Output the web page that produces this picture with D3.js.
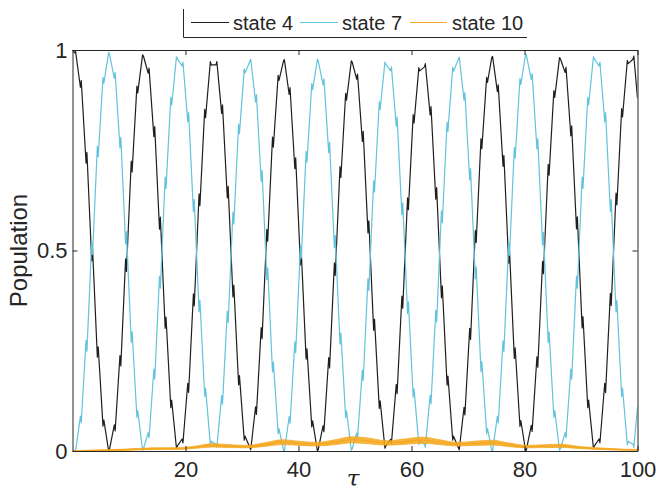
<!DOCTYPE html>
<html><head><meta charset="utf-8">
<script src="https://cdn.jsdelivr.net/npm/d3@7"></script>
<style>
body{margin:0;background:#fff}
svg{display:block}
text{font-family:"Liberation Sans",Arial,Helvetica,sans-serif;fill:#262626}
</style>
</head><body><svg id="chart" width="656" height="494"></svg>
<script>
// ---------------- data ----------------
const seriesNames = ["state 4", "state 7", "state 10"];
const xTicks = [20, 40, 60, 80, 100];
const yTicks = [0, 0.5, 1];
const yTickLabels = ["0", "0.5", "1"];

// state 4 : [tau, population]
const state4 = [[0,1],[0.4,.993],[0.55,.996],[1.4,.907],[1.55,.924],[2.4,.718],[2.55,.745],[3.4,.474],[3.55,.505],[4.4,.234],[4.55,.26],[5.4,.062],[5.55,.077],[6.4,0],[6.55,.004],[7.4,.065],[7.55,.05],[8.4,.238],[8.55,.212],[9.4,.479],[9.55,.448],[10.4,.723],[10.55,.696],[11.4,.91],[11.55,.893],[12.4,.988],[12.55,.985],
[13.4,.942],[13.55,.955],[14.4,.784],[14.55,.809],[15.4,.553],[15.55,.583],[16.4,.306],[16.55,.334],[17.4,.108],[17.55,.127],[18.4,.007],[18.55,.012],[19.4,.03],[19.55,.02],[20.4,.169],[20.55,.146],[21.4,.392],[21.55,.362],[22.4,.641],[22.55,.612],[23.4,.852],[23.55,.831],[24.4,.971],[24.55,.963],
[25.4,.963],[25.55,.971],[26.4,.842],[26.55,.863],[27.4,.631],[27.55,.66],[28.4,.384],[28.55,.414],[29.4,.165],[29.55,.188],[30.4,.027],[30.55,.037],[31.4,.008],[31.55,.003],[32.4,.11],[32.55,.091],[33.4,.308],[33.55,.28],[34.4,.553],[34.55,.523],[35.4,.783],[35.55,.758],[36.4,.937],[36.55,.924],
[37.35,.973],[37.5,.976],[38.35,.889],[38.5,.906],[39.35,.704],[39.5,.731],[40.35,.464],[40.5,.495],[41.35,.229],[41.5,.255],[42.35,.06],[42.5,.075],[43.35,0],[43.5,.004],[44.35,.063],[44.5,.048],[45.35,.233],[45.5,.207],[46.35,.469],[46.5,.438],[47.35,.709],[47.5,.682],[48.35,.892],[48.5,.875],[49.35,.973],[49.5,.97],
[50.3,.927],[50.45,.94],[51.3,.772],[51.45,.797],[52.3,.544],[52.45,.574],[53.3,.301],[53.45,.329],[54.3,.106],[54.45,.125],[55.3,.007],[55.45,.012],[56.3,.029],[56.45,.019],[57.3,.166],[57.45,.143],[58.3,.386],[58.45,.356],[59.3,.631],[59.45,.602],[60.3,.839],[60.45,.818],[61.3,.956],[61.45,.948],
[62.3,.958],[62.45,.966],[63.3,.838],[63.45,.859],[64.3,.628],[64.45,.657],[65.3,.382],[65.45,.412],[66.3,.164],[66.45,.187],[67.3,.027],[67.45,.037],[68.3,.008],[68.45,.003],[69.3,.109],[69.45,.09],[70.3,.306],[70.45,.278],[71.3,.55],[71.45,.52],[72.3,.779],[72.45,.754],[73.3,.932],[73.45,.919],
[74.2,.981],[74.35,.984],[75.2,.896],[75.35,.913],[76.2,.71],[76.35,.737],[77.2,.468],[77.35,.499],[78.2,.231],[78.35,.257],[79.2,.061],[79.35,.076],[80.2,0],[80.35,.004],[81.2,.064],[81.35,.049],[82.2,.235],[82.35,.209],[83.2,.473],[83.35,.442],[84.2,.715],[84.35,.688],[85.2,.899],[85.35,.882],[86.2,.981],[86.35,.978],
[87.2,.944],[87.35,.957],[88.2,.786],[88.35,.811],[89.2,.554],[89.35,.584],[90.2,.307],[90.35,.335],[91.2,.108],[91.35,.127],[92.2,.007],[92.35,.012],[93.2,.03],[93.35,.02],[94.2,.169],[94.35,.146],[95.2,.393],[95.35,.363],[96.2,.643],[96.35,.614],[97.2,.854],[97.35,.833],[98.2,.974],[98.35,.966],
[99.2,.977],[99.35,.985],[100,.88]];

// state 7 : [tau, population]
const state7 = [[0,0],[0.4,.002],[0.55,0],[1.4,.087],[1.55,.07],[2.4,.276],[2.55,.249],[3.4,.521],[3.55,.49],[4.4,.76],[4.55,.734],[5.4,.932],[5.55,.917],[6.4,.994],[6.55,.99],[7.4,.929],[7.55,.944],[8.4,.756],[8.55,.782],[9.4,.516],[9.55,.547],[10.4,.271],[10.55,.298],[11.4,.084],[11.55,.101],[12.4,.002],[12.55,.005],
[13.4,.046],[13.55,.033],[14.4,.204],[14.55,.179],[15.4,.436],[15.55,.406],[16.4,.683],[16.55,.655],[17.4,.882],[17.55,.863],[18.4,.983],[18.55,.978],[19.4,.96],[19.55,.97],[20.4,.821],[20.55,.844],[21.4,.597],[21.55,.627],[22.4,.347],[22.55,.376],[23.4,.136],[23.55,.157],[24.4,.016],[24.55,.024],
[25.4,.017],[25.55,.009],[26.4,.138],[26.55,.117],[27.4,.349],[27.55,.32],[28.4,.596],[28.55,.566],[29.4,.815],[29.55,.792],[30.4,.953],[30.55,.943],[31.4,.972],[31.55,.977],[32.4,.87],[32.55,.889],[33.4,.672],[33.55,.7],[34.4,.427],[34.55,.457],[35.4,.197],[35.55,.222],[36.4,.043],[36.55,.056],
[37.35,.002],[37.5,0],[38.35,.086],[38.5,.069],[39.35,.272],[39.5,.245],[40.35,.512],[40.5,.481],[41.35,.747],[41.5,.721],[42.35,.916],[42.5,.901],[43.35,.977],[43.5,.973],[44.35,.913],[44.5,.928],[45.35,.744],[45.5,.77],[46.35,.507],[46.5,.538],[47.35,.267],[47.5,.294],[48.35,.083],[48.5,.1],[49.35,.002],[49.5,.005],
[50.3,.045],[50.45,.032],[51.3,.201],[51.45,.176],[52.3,.43],[52.45,.4],[53.3,.674],[53.45,.646],[54.3,.871],[54.45,.852],[55.3,.97],[55.45,.965],[56.3,.948],[56.45,.958],[57.3,.81],[57.45,.833],[58.3,.589],[58.45,.619],[59.3,.343],[59.45,.372],[60.3,.134],[60.45,.155],[61.3,.016],[61.45,.024],
[62.3,.017],[62.45,.009],[63.3,.139],[63.45,.118],[64.3,.351],[64.45,.322],[65.3,.599],[65.45,.569],[66.3,.82],[66.45,.797],[67.3,.957],[67.45,.947],[68.3,.977],[68.45,.982],[69.3,.875],[69.45,.894],[70.3,.676],[70.45,.704],[71.3,.429],[71.45,.459],[72.3,.198],[72.45,.223],[73.3,.043],[73.45,.056],
[74.2,.002],[74.35,0],[75.2,.087],[75.35,.07],[76.2,.275],[76.35,.248],[77.2,.519],[77.35,.488],[78.2,.757],[78.35,.731],[79.2,.929],[79.35,.914],[80.2,.99],[80.35,.986],[81.2,.926],[81.35,.941],[82.2,.753],[82.35,.779],[83.2,.514],[83.35,.545],[84.2,.27],[84.35,.297],[85.2,.084],[85.35,.101],[86.2,.002],[86.35,.005],
[87.2,.046],[87.35,.033],[88.2,.204],[88.35,.179],[89.2,.436],[89.35,.406],[90.2,.683],[90.35,.655],[91.2,.882],[91.35,.863],[92.2,.983],[92.35,.978],[93.2,.96],[93.35,.97],[94.2,.821],[94.35,.844],[95.2,.597],[95.35,.627],[96.2,.347],[96.35,.376],[97.2,.136],[97.35,.157],[98.2,.016],[98.35,.024],
[99.2,.017],[99.35,.009],[100,.11]];

// state 10 : slow envelope (center) and half-width of its fast oscillation band
const state10T  = [0,3,6.2,9,12.5,15.6,18.5,21.5,24.8,28,31,34,37.2,40.3,43.3,46.5,49.5,52.5,55.5,58.5,62,65,68,71,74.2,77,80.4,83.5,86.5,89.5,92.8,96,99,100];
const state10V  = [0,.001,.002,.003,.005,.006,.006,.009,.014,.012,.011,.016,.022,.019,.017,.022,.028,.025,.02,.023,.027,.022,.017,.019,.021,.016,.011,.012,.013,.009,.006,.004,.003,.003];
const state10HW = [0,.001,.001,.0015,.002,.002,.002,.0025,.004,.0035,.003,.0045,.006,.005,.0045,.006,.0075,.007,.0055,.0065,.0075,.006,.0045,.005,.006,.0045,.003,.0035,.004,.0025,.002,.0015,.001,.001];

// ---------------- drawing ----------------
const colors = ["#1e1e1e", "#62c3dc", "#f5a71e"];
const plot = {left: 72.5, right: 637.5, top: 50, bottom: 451};

const svg = d3.select("#chart");
const x = d3.scaleLinear().domain([0, 100]).range([plot.left, plot.right]);
const y = d3.scaleLinear().domain([0, 1]).range([plot.bottom, plot.top]);

svg.append("defs").append("clipPath").attr("id", "clip")
  .append("rect").attr("x", plot.left).attr("y", plot.top - 1)
  .attr("width", plot.right - plot.left).attr("height", plot.bottom - plot.top + 1);

const g = svg.append("g").attr("clip-path", "url(#clip)");

const line = d3.line().x(d => x(d[0])).y(d => y(d[1]));

g.append("path").datum(state4).attr("d", line)
  .attr("fill", "none").attr("stroke", colors[0]).attr("stroke-width", 1.2).attr("stroke-linejoin", "round");
g.append("path").datum(state7).attr("d", line)
  .attr("fill", "none").attr("stroke", colors[1]).attr("stroke-width", 1.2).attr("stroke-linejoin", "round");

const s10 = state10T.map((t, i) => ({t, v: state10V[i], hw: state10HW[i]}));
g.append("path").datum(s10)
  .attr("d", d3.area().curve(d3.curveMonotoneX).x(d => x(d.t)).y0(d => y(d.v - d.hw)).y1(d => y(d.v + d.hw)))
  .attr("fill", colors[2]).attr("fill-opacity", 0.85).attr("stroke", colors[2]).attr("stroke-width", 0.8);
g.append("path").datum(s10)
  .attr("d", d3.line().curve(d3.curveMonotoneX).x(d => x(d.t)).y(d => y(d.v)))
  .attr("fill", "none").attr("stroke", colors[2]).attr("stroke-width", 1.2);

// axes (box with inward ticks)
const axisColor = "#262626";
const axB = svg.append("g").attr("transform", `translate(0,${plot.bottom})`)
  .call(d3.axisBottom(x).tickValues(xTicks).tickSizeInner(-5).tickSizeOuter(0).tickPadding(10.5));
const axT = svg.append("g").attr("transform", `translate(0,${plot.top})`)
  .call(d3.axisTop(x).tickValues(xTicks).tickSizeInner(-5).tickSizeOuter(0).tickFormat(""));
const axL = svg.append("g").attr("transform", `translate(${plot.left},0)`)
  .call(d3.axisLeft(y).tickValues(yTicks).tickSizeInner(-5).tickSizeOuter(0).tickPadding(5)
    .tickFormat((d, i) => yTickLabels[i]));
const axR = svg.append("g").attr("transform", `translate(${plot.right},0)`)
  .call(d3.axisRight(y).tickValues(yTicks).tickSizeInner(-5).tickSizeOuter(0).tickFormat(""));
[axB, axT, axL, axR].forEach(a => {
  a.selectAll("path,line").attr("stroke", axisColor).attr("stroke-width", 1);
  a.selectAll("text").attr("fill", axisColor).style("font-size", "22px")
    .style("font-family", '"Liberation Sans", Arial, Helvetica, sans-serif');
});

// axis labels
svg.append("text").attr("x", 353).attr("y", 486).attr("text-anchor", "middle")
  .style("font-size", "23px").style("font-style", "italic").style("font-family", '"DejaVu Serif", serif')
  .text("τ");
svg.append("text").attr("transform", "translate(27,250.5) rotate(-90)").attr("text-anchor", "middle")
  .style("font-size", "24px").text("Population");

// legend (only left and bottom edges of its box are visible)
const lg = svg.append("g");
lg.append("line").attr("x1", 183.5).attr("x2", 183.5).attr("y1", 9).attr("y2", 37.5)
  .attr("stroke", axisColor).attr("stroke-width", 1);
lg.append("line").attr("x1", 183.5).attr("x2", 527).attr("y1", 37.5).attr("y2", 37.5)
  .attr("stroke", axisColor).attr("stroke-width", 1);
const legX = [[191, 229, 233], [300, 338, 342], [410, 447, 452]];
seriesNames.forEach((name, i) => {
  lg.append("line").attr("x1", legX[i][0]).attr("x2", legX[i][1]).attr("y1", 22.5).attr("y2", 22.5)
    .attr("stroke", colors[i]).attr("stroke-width", 1.2);
  lg.append("text").attr("x", legX[i][2]).attr("y", 29.5).style("font-size", "20px").text(name);
});
</script>
</body></html>
